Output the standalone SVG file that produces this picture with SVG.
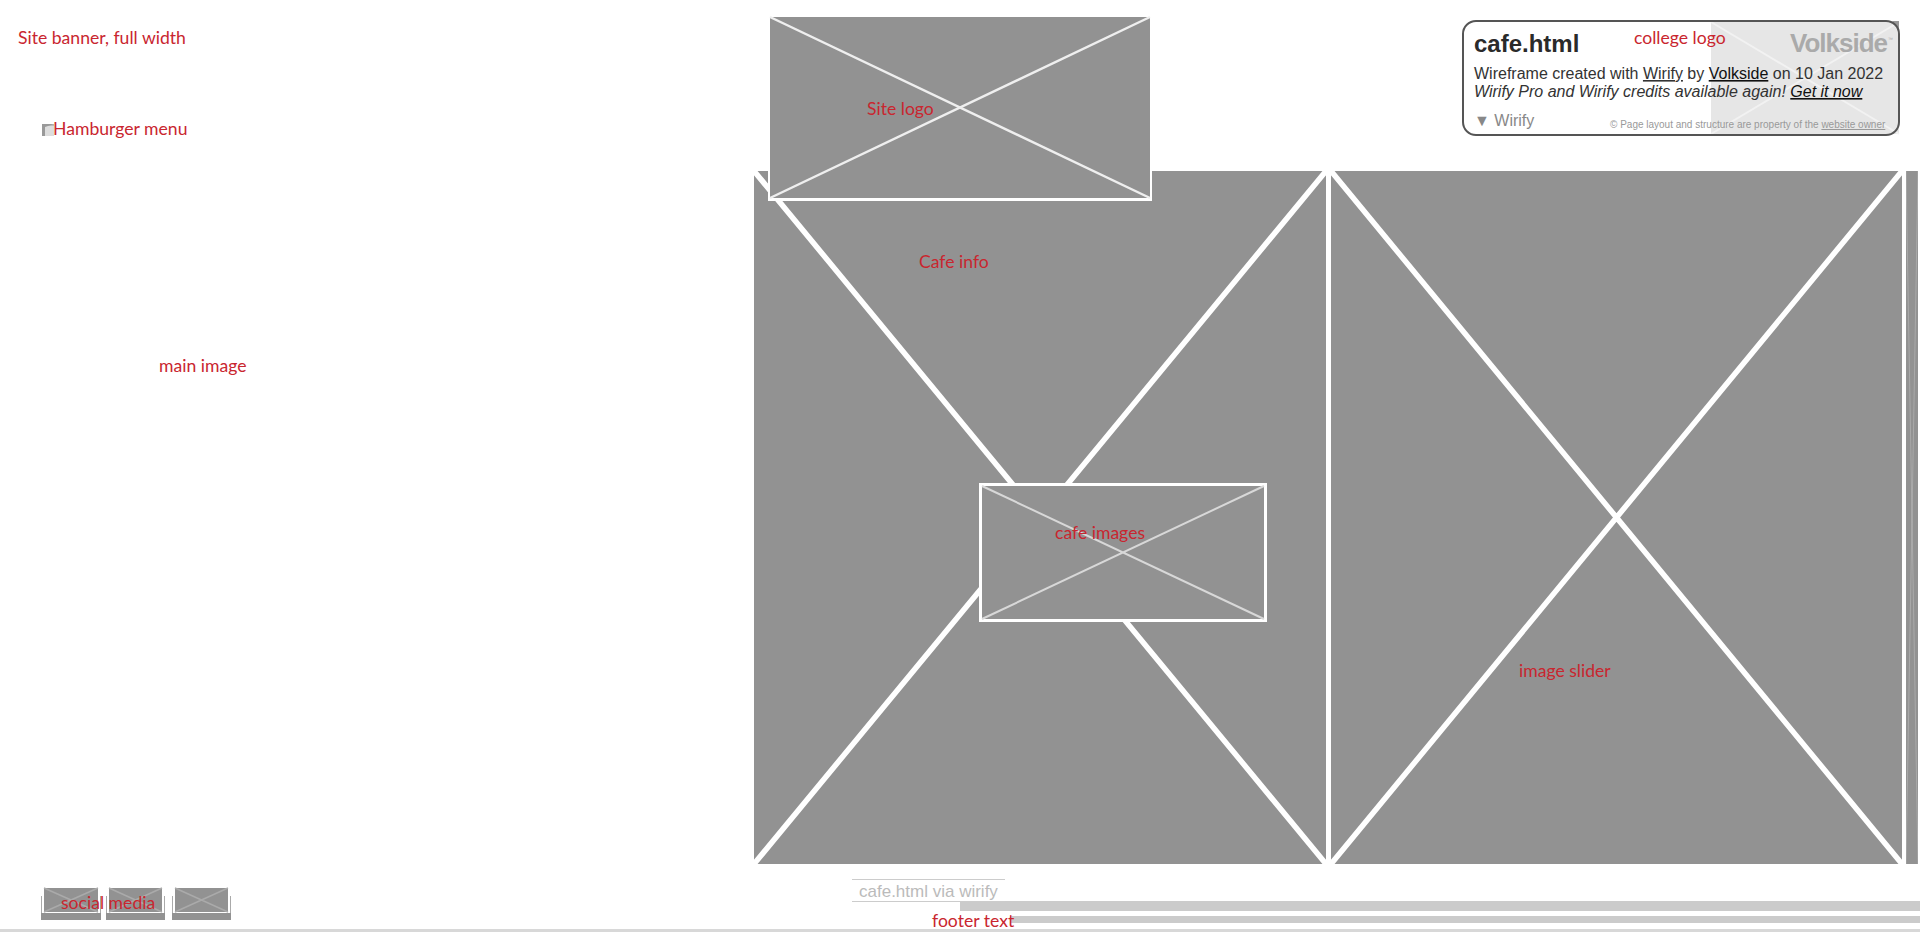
<svg xmlns="http://www.w3.org/2000/svg" width="1920" height="932" viewBox="0 0 1920 932">
<style>
.g{fill:#929292}
.lbl{font-family:Lato,"Noto Sans",sans-serif;font-size:17.6px;fill:#c9262f}
.sans{font-family:"Liberation Sans",Arial,sans-serif}
.x5{stroke:#fff;stroke-width:5.5;fill:none}
.x2{stroke:#efefef;stroke-width:2.4;fill:none}
.x1{stroke:#d8d8d8;stroke-width:2;fill:none}
.soc{stroke:#aaa;stroke-width:1.5;fill:none}
</style>
<rect width="1920" height="932" fill="#fff"/>
<g id="footer-rule"><rect x="0" y="929" width="1920" height="3" fill="#d8d8d8"/></g>
<g id="main-image-1"><rect class="g" x="754" y="171" width="572" height="693"/><path class="x5" d="M754 171L1326 864M1326 171L754 864"/></g>
<g id="main-image-2"><rect class="g" x="1331" y="171" width="571" height="693"/><path class="x5" d="M1331 171L1902 864M1902 171L1331 864"/></g>
<g id="main-image-3"><rect class="g" x="1906" y="171" width="12" height="693"/><path d="M1906 171L1918 864M1918 171L1906 864" stroke="#fff" stroke-width="1" opacity=".22" fill="none"/></g>
<g id="site-logo"><rect x="768" y="171" width="384" height="30" fill="#fff"/><rect class="g" x="770" y="17" width="380" height="181"/><path class="x2" d="M770 17L1150 198M1150 17L770 198"/></g>
<g id="cafe-images"><rect class="g" x="980.500" y="484.500" width="285" height="136" stroke="#fff" stroke-width="3"/><path class="x1" d="M982 486L1264 619M1264 486L982 619"/></g>
<g id="college-logo">
<rect x="1711" y="22" width="188" height="112" fill="#e6e6e6"/>
<path d="M1711 22L1899 134M1899 22L1711 134" stroke="#f2f2f2" stroke-width="2" fill="none"/>
<path d="M1892 21H1899V30Z" fill="#999"/>
<rect x="1463" y="21" width="436" height="114" rx="13" fill="none" stroke="#555" stroke-width="2"/>
<text class="sans" x="1474" y="52" font-size="24" font-weight="700" fill="#2a2a2a">cafe.html</text>
<text class="sans" x="1474" y="79" font-size="16" fill="#333">Wireframe created with <tspan text-decoration="underline">Wirify</tspan> by <tspan text-decoration="underline" fill="#111">Volkside</tspan> on 10 Jan 2022</text>
<text class="sans" x="1474" y="97" font-size="16" font-style="italic" fill="#333">Wirify Pro and Wirify credits available again! <tspan text-decoration="underline" fill="#111">Get it now</tspan></text>
<text class="sans" x="1474" y="126" font-size="16" fill="#888">▼ Wirify</text>
<text class="sans" x="1610" y="128" font-size="10" fill="#999">©  Page layout and structure are property of the <tspan text-decoration="underline">website owner</tspan></text>
<text class="sans" x="1790" y="52" font-size="26" font-weight="700" letter-spacing="-1" fill="#aaa">Volkside</text>
<text class="sans" x="1888" y="41" font-size="5" fill="#aaa">™</text>
</g>
<g id="hamburger"><rect x="42" y="124" width="12" height="12" fill="#bbb"/><rect x="45" y="126" width="9" height="10" fill="#ddd"/><path d="M42 124H54L45 127V136H42Z" fill="#999"/></g>
<g id="social-1"><path d="M41.500 896V919.500H100.500V896" fill="none" stroke="#aaa" stroke-width="1"/><rect class="g" x="41" y="913" width="60" height="7"/><rect class="g" x="44" y="888" width="54" height="24"/><path class="soc" d="M44 888L98 912M98 888L44 912"/></g>
<g id="social-2"><path d="M106.500 896V919.500H164.500V896" fill="none" stroke="#aaa" stroke-width="1"/><rect class="g" x="106" y="913" width="59" height="7"/><rect class="g" x="109" y="888" width="53" height="24"/><path class="soc" d="M109 888L162 912M162 888L109 912"/></g>
<g id="social-3"><path d="M172.500 896V919.500H230.500V896" fill="none" stroke="#aaa" stroke-width="1"/><rect class="g" x="172" y="913" width="59" height="7"/><rect class="g" x="175" y="888" width="53" height="24"/><path class="soc" d="M175 888L228 912M228 888L175 912"/></g>
<g id="footer-bars"><rect x="960" y="901" width="960" height="10" fill="#cbcbcb"/><rect x="1010" y="916" width="910" height="7" fill="#cbcbcb"/></g>
<g id="wirify-link"><path d="M852 879.500H1005M852 901.500H1005" stroke="#ccc" stroke-width="1" fill="none"/><text class="sans" x="859" y="897" font-size="17" fill="#bbb">cafe.html via wirify</text></g>
<g id="labels">
<text class="lbl" x="18" y="44">Site banner, full width</text>
<text class="lbl" x="53" y="135">Hamburger menu</text>
<text class="lbl" x="867" y="115">Site logo</text>
<text class="lbl" x="919" y="268">Cafe info</text>
<text class="lbl" x="159" y="372">main image</text>
<text class="lbl" x="1055" y="539">cafe images</text>
<text class="lbl" x="1519" y="677">image slider</text>
<text class="lbl" x="1634" y="44">college logo</text>
<text class="lbl" x="61" y="909">social media</text>
<text class="lbl" x="932" y="927">footer text</text>
</g>
</svg>
